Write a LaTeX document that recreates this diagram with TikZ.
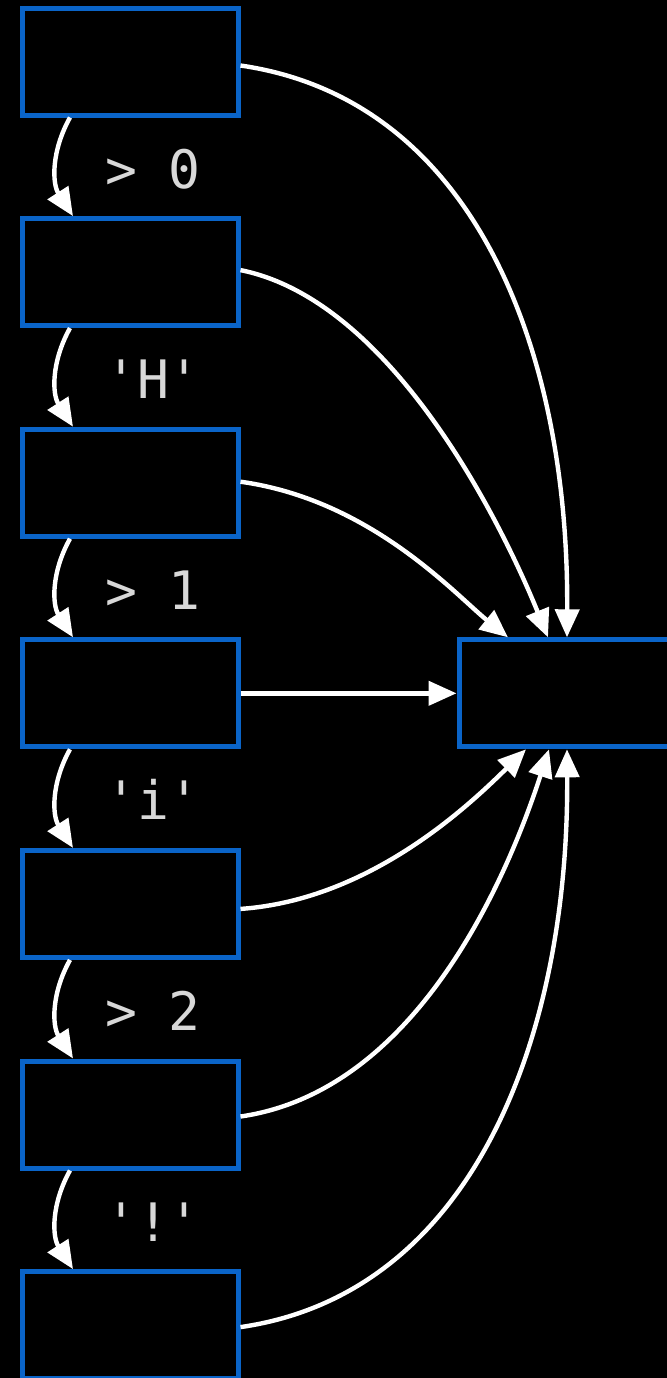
\documentclass[tikz,border=0pt]{standalone}
\usepackage{fontspec}
\newfontfamily\labelfont{DejaVu Sans Mono}
\usetikzlibrary{arrows.meta,calc}
\definecolor{boxblue}{RGB}{10,100,200}
\definecolor{labelgray}{RGB}{216,216,216}
\begin{document}
\begin{tikzpicture}[x=0.5pt,y=-0.5pt,
  statebox/.style={draw=boxblue,line width=2.5pt,fill=black,rectangle,inner sep=0pt,
    minimum width=108pt,minimum height=53.5pt},
  link/.style={draw=white,line width=2.2pt,-{Triangle[length=14pt,width=12pt]}},
  steplabel/.style={text=labelgray,font=\labelfont\fontsize{26.5}{30}\selectfont,anchor=base,inner sep=0pt}]
  % canvas
  \fill[black] (0,0) rectangle (667,1378);
  \useasboundingbox (0,0) rectangle (667,1378);

  % chain of states on the left
  \foreach \k in {1,...,7}{
    \node[statebox] (b\k) at (130,{61.5+210.6*(\k-1)}) {};
  }
  % common target on the right
  \node[statebox] (r) at (567,{61.5+210.6*3}) {};

  % transitions down the chain
  \foreach \k [evaluate=\k as \n using int(\k+1)] in {1,...,6}{
    \draw[link] ($(b\k.south)+(-60,0)$) to[bend right=31] ($(b\n.north)+(-57,0)$);
  }
  \node[steplabel] (l1) at (153,{188+210.6*0}) {> 0};
  \node[steplabel] (l2) at (153,{188+210.6*1}) {'H'};
  \node[steplabel] (l3) at (153,{188+210.6*2}) {> 1};
  \node[steplabel] (l4) at (153,{188+210.6*3}) {'i'};
  \node[steplabel] (l5) at (153,{188+210.6*4}) {> 2};
  \node[steplabel] (l6) at (153,{188+210.6*5}) {'!'};

  % fall-through edges into the target
  \draw[link] ($(b1.east)+(0,4)$) .. controls +(235,34) and +(2,-285) .. (r.north);
  \draw[link] ($(b2.east)+(0,-2)$) .. controls +(150,30) and +(-48,-118) .. ($(r.north)+(-19,0)$);
  \draw[link] ($(b3.east)+(0,-1)$) .. controls +(130,18) and +(-53,-43) .. ($(r.north)+(-59,0)$);
  \draw[link] (b4.east) -- (r.west);
  \draw[link] ($(b5.east)+(0,5)$) .. controls +(130,-9) and +(-56,55) .. ($(r.south)+(-41,0)$);
  \draw[link] ($(b6.east)+(0,2)$) .. controls +(180,-26) and +(-39,120) .. ($(r.south)+(-18,0)$);
  \draw[link] ($(b7.east)+(0,2)$) .. controls +(235,-34) and +(2,283) .. (r.south);
\end{tikzpicture}
\end{document}
